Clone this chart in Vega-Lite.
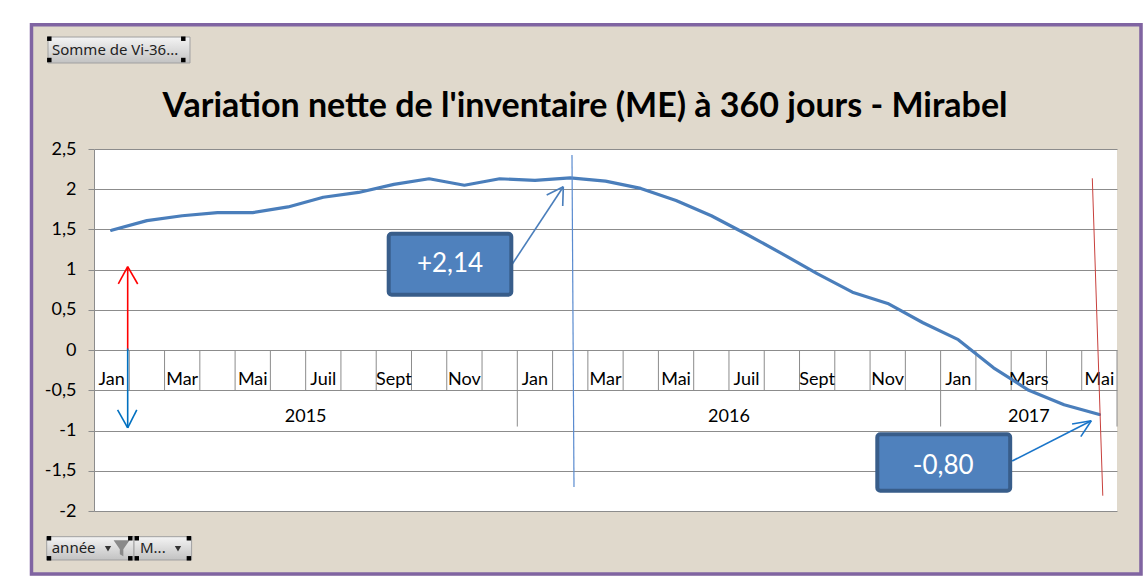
{
  "$schema": "https://vega.github.io/schema/vega-lite/v6.json",
  "width": 1023,
  "height": 362,
  "autosize": {"type": "none"},
  "padding": {"left": 94, "top": 149, "right": 29, "bottom": 72},
  "background": "#e0d9cc",
  "config": {"view": {"fill": "white", "stroke": null}, "font": "Lato"},
  "data": {
    "values": [
      {"rang": 0, "annee": "2015", "mois": "Jan", "lab": "Jan", "v": 1.49},
      {"rang": 1, "annee": "2015", "mois": "Fév", "lab": "", "v": 1.61},
      {"rang": 2, "annee": "2015", "mois": "Mar", "lab": "Mar", "v": 1.67},
      {"rang": 3, "annee": "2015", "mois": "Avr", "lab": "", "v": 1.71},
      {"rang": 4, "annee": "2015", "mois": "Mai", "lab": "Mai", "v": 1.71},
      {"rang": 5, "annee": "2015", "mois": "Juin", "lab": "", "v": 1.78},
      {"rang": 6, "annee": "2015", "mois": "Juil", "lab": "Juil", "v": 1.9},
      {"rang": 7, "annee": "2015", "mois": "Août", "lab": "", "v": 1.96},
      {"rang": 8, "annee": "2015", "mois": "Sept", "lab": "Sept", "v": 2.06},
      {"rang": 9, "annee": "2015", "mois": "Oct", "lab": "", "v": 2.13},
      {"rang": 10, "annee": "2015", "mois": "Nov", "lab": "Nov", "v": 2.05},
      {"rang": 11, "annee": "2015", "mois": "Déc", "lab": "", "v": 2.13},
      {"rang": 12, "annee": "2016", "mois": "Jan", "lab": "Jan", "v": 2.11},
      {"rang": 13, "annee": "2016", "mois": "Fév", "lab": "", "v": 2.14},
      {"rang": 14, "annee": "2016", "mois": "Mar", "lab": "Mar", "v": 2.1},
      {"rang": 15, "annee": "2016", "mois": "Avr", "lab": "", "v": 2.01},
      {"rang": 16, "annee": "2016", "mois": "Mai", "lab": "Mai", "v": 1.86},
      {"rang": 17, "annee": "2016", "mois": "Juin", "lab": "", "v": 1.67},
      {"rang": 18, "annee": "2016", "mois": "Juil", "lab": "Juil", "v": 1.44},
      {"rang": 19, "annee": "2016", "mois": "Août", "lab": "", "v": 1.2},
      {"rang": 20, "annee": "2016", "mois": "Sept", "lab": "Sept", "v": 0.95},
      {"rang": 21, "annee": "2016", "mois": "Oct", "lab": "", "v": 0.72},
      {"rang": 22, "annee": "2016", "mois": "Nov", "lab": "Nov", "v": 0.58},
      {"rang": 23, "annee": "2016", "mois": "Déc", "lab": "", "v": 0.34},
      {"rang": 24, "annee": "2017", "mois": "Jan", "lab": "Jan", "v": 0.13},
      {"rang": 25, "annee": "2017", "mois": "Fév", "lab": "", "v": -0.22},
      {"rang": 26, "annee": "2017", "mois": "Mars", "lab": "Mars", "v": -0.5},
      {"rang": 27, "annee": "2017", "mois": "Avr", "lab": "", "v": -0.68},
      {"rang": 28, "annee": "2017", "mois": "Mai", "lab": "Mai", "v": -0.8}
    ]
  },
  "layer": [
    {
      "mark": {"type": "rule", "color": "#8c8c8c", "strokeWidth": 1, "xOffset": 17.64},
      "encoding": {
        "x": {"field": "rang", "type": "quantitative", "scale": {"domain": [-0.5, 28.5], "nice": false, "zero": false}, "axis": null},
        "y": {"datum": 0, "type": "quantitative"},
        "y2": {"datum": -0.5}
      }
    },
    {
      "transform": [{"aggregate": [{"op": "max", "field": "rang", "as": "m"}], "groupby": ["annee"]}],
      "mark": {"type": "rule", "color": "#8c8c8c", "strokeWidth": 1, "xOffset": 17.64},
      "encoding": {
        "x": {"field": "m", "type": "quantitative"},
        "y": {"datum": -0.5, "type": "quantitative"},
        "y2": {"datum": -0.95}
      }
    },
    {
      "transform": [{"filter": "datum.lab != ''"}],
      "mark": {"type": "text", "font": "Lato", "fontSize": 18, "color": "black", "align": "center", "baseline": "alphabetic"},
      "encoding": {
        "x": {"field": "rang", "type": "quantitative"},
        "y": {"datum": -0.434, "type": "quantitative"},
        "text": {"field": "lab"}
      }
    },
    {
      "transform": [{"aggregate": [{"op": "mean", "field": "rang", "as": "c"}], "groupby": ["annee"]}],
      "mark": {"type": "text", "font": "Lato", "fontSize": 18, "color": "black", "align": "center", "baseline": "alphabetic"},
      "encoding": {
        "x": {"field": "c", "type": "quantitative"},
        "y": {"datum": -0.89, "type": "quantitative"},
        "text": {"field": "annee"}
      }
    },
    {
      "mark": {"type": "line", "color": "#4a7ebb", "strokeWidth": 3.2, "strokeJoin": "round", "strokeCap": "round"},
      "encoding": {
        "x": {"field": "rang", "type": "quantitative"},
        "y": {
          "field": "v", "type": "quantitative",
          "scale": {"domain": [-2, 2.5], "nice": false, "zero": false},
          "axis": {
            "title": null, "values": [-2, -1.5, -1, -0.5, 0, 0.5, 1, 1.5, 2, 2.5],
            "grid": true, "gridColor": "#8c8c8c", "gridWidth": 1,
            "domain": true, "domainColor": "#8c8c8c", "ticks": true, "tickColor": "#8c8c8c", "tickSize": 6,
            "labelFont": "Lato", "labelFontSize": 18, "labelColor": "black", "labelPadding": 12,
            "labelOverlap": false, "labelBound": false, "labelFlush": false,
            "labelExpr": "replace(toString(datum.value), '.', ',')"
          }
        }
      }
    },
    {
      "data": {"values": [{}]},
      "mark": {"type": "rule", "color": "#5a8bd0", "strokeWidth": 1.2},
      "encoding": {"x": {"datum": 13.05, "type": "quantitative"}, "y": {"datum": 2.425, "type": "quantitative"}, "x2": {"datum": 13.107}, "y2": {"datum": -1.702}}
    },
    {
      "data": {"values": [{}]},
      "mark": {"type": "rule", "color": "#c8403c", "strokeWidth": 1},
      "encoding": {"x": {"datum": 27.8, "type": "quantitative"}, "y": {"datum": 2.136, "type": "quantitative"}, "x2": {"datum": 28.097}, "y2": {"datum": -1.81}}
    },
    {
      "data": {"values": [{}]},
      "mark": {"type": "rule", "color": "#ff0000", "strokeWidth": 1.6},
      "encoding": {"x": {"datum": 0.455, "type": "quantitative"}, "y": {"datum": 0, "type": "quantitative"}, "x2": {"datum": 0.455}, "y2": {"datum": 1.037}}
    },
    {
      "data": {"values": [{}]},
      "mark": {"type": "rule", "color": "#ff0000", "strokeWidth": 1.6},
      "encoding": {"x": {"datum": 0.455, "type": "quantitative"}, "y": {"datum": 1.037, "type": "quantitative"}, "x2": {"datum": 0.189}, "y2": {"datum": 0.822}}
    },
    {
      "data": {"values": [{}]},
      "mark": {"type": "rule", "color": "#ff0000", "strokeWidth": 1.6},
      "encoding": {"x": {"datum": 0.455, "type": "quantitative"}, "y": {"datum": 1.037, "type": "quantitative"}, "x2": {"datum": 0.739}, "y2": {"datum": 0.822}}
    },
    {
      "data": {"values": [{}]},
      "mark": {"type": "rule", "color": "#0070c0", "strokeWidth": 1.6},
      "encoding": {"x": {"datum": 0.455, "type": "quantitative"}, "y": {"datum": 0.02, "type": "quantitative"}, "x2": {"datum": 0.455}, "y2": {"datum": -0.968}}
    },
    {
      "data": {"values": [{}]},
      "mark": {"type": "rule", "color": "#0070c0", "strokeWidth": 1.6},
      "encoding": {"x": {"datum": 0.455, "type": "quantitative"}, "y": {"datum": -0.968, "type": "quantitative"}, "x2": {"datum": 0.169}, "y2": {"datum": -0.744}}
    },
    {
      "data": {"values": [{}]},
      "mark": {"type": "rule", "color": "#0070c0", "strokeWidth": 1.6},
      "encoding": {"x": {"datum": 0.455, "type": "quantitative"}, "y": {"datum": -0.968, "type": "quantitative"}, "x2": {"datum": 0.713}, "y2": {"datum": -0.744}}
    },
    {
      "data": {"values": [{}]},
      "mark": {"type": "rule", "color": "#4a7ebb", "strokeWidth": 1.6},
      "encoding": {"x": {"datum": 11.34, "type": "quantitative"}, "y": {"datum": 1.058, "type": "quantitative"}, "x2": {"datum": 12.804}, "y2": {"datum": 2.031}}
    },
    {
      "data": {"values": [{}]},
      "mark": {"type": "rule", "color": "#4a7ebb", "strokeWidth": 1.6},
      "encoding": {"x": {"datum": 12.804, "type": "quantitative"}, "y": {"datum": 2.031, "type": "quantitative"}, "x2": {"datum": 12.333}, "y2": {"datum": 1.928}}
    },
    {
      "data": {"values": [{}]},
      "mark": {"type": "rule", "color": "#4a7ebb", "strokeWidth": 1.6},
      "encoding": {"x": {"datum": 12.804, "type": "quantitative"}, "y": {"datum": 2.031, "type": "quantitative"}, "x2": {"datum": 12.787}, "y2": {"datum": 1.791}}
    },
    {
      "data": {"values": [{}]},
      "mark": {"type": "rule", "color": "#1a75c9", "strokeWidth": 1.6},
      "encoding": {"x": {"datum": 25.529, "type": "quantitative"}, "y": {"datum": -1.378, "type": "quantitative"}, "x2": {"datum": 27.771}, "y2": {"datum": -0.8775}}
    },
    {
      "data": {"values": [{}]},
      "mark": {"type": "rule", "color": "#1a75c9", "strokeWidth": 1.6},
      "encoding": {"x": {"datum": 27.771, "type": "quantitative"}, "y": {"datum": -0.8775, "type": "quantitative"}, "x2": {"datum": 27.227}, "y2": {"datum": -0.9185}}
    },
    {
      "data": {"values": [{}]},
      "mark": {"type": "rule", "color": "#1a75c9", "strokeWidth": 1.6},
      "encoding": {"x": {"datum": 27.771, "type": "quantitative"}, "y": {"datum": -0.8775, "type": "quantitative"}, "x2": {"datum": 27.474}, "y2": {"datum": -1.076}}
    },
    {
      "data": {"values": [{}]},
      "mark": {"type": "rect", "fill": "#4f81bd", "stroke": "#385d8a", "strokeWidth": 4, "cornerRadius": 3},
      "encoding": {"x": {"datum": 7.854, "type": "quantitative"}, "y": {"datum": 1.447, "type": "quantitative"}, "x2": {"datum": 11.33}, "y2": {"datum": 0.689}}
    },
    {
      "data": {"values": [{}]},
      "mark": {"type": "text", "text": "+2,14", "font": "Lato", "fontSize": 26, "color": "white", "align": "center", "baseline": "middle"},
      "encoding": {"x": {"datum": 9.592, "type": "quantitative"}, "y": {"datum": 1.07, "type": "quantitative"}}
    },
    {
      "data": {"values": [{}]},
      "mark": {"type": "rect", "fill": "#4f81bd", "stroke": "#385d8a", "strokeWidth": 4, "cornerRadius": 3},
      "encoding": {"x": {"datum": 21.705, "type": "quantitative"}, "y": {"datum": -1.047, "type": "quantitative"}, "x2": {"datum": 25.472}, "y2": {"datum": -1.748}}
    },
    {
      "data": {"values": [{}]},
      "mark": {"type": "text", "text": "-0,80", "font": "Lato", "fontSize": 26, "color": "white", "align": "center", "baseline": "middle"},
      "encoding": {"x": {"datum": 23.573, "type": "quantitative"}, "y": {"datum": -1.441, "type": "quantitative"}}
    },
    {
      "data": {"values": [{}]},
      "mark": {"type": "rect", "fillOpacity": 0, "fill": "white", "stroke": "white", "strokeWidth": 60},
      "encoding": {"x": {"datum": -3.165, "type": "quantitative"}, "y": {"datum": 4.439, "type": "quantitative"}, "x2": {"datum": 30.073}, "y2": {"datum": -3.175}}
    },
    {
      "data": {"values": [{}]},
      "mark": {"type": "rect", "fillOpacity": 0, "fill": "white", "stroke": "#8064a2", "strokeWidth": 3.5},
      "encoding": {"x": {"datum": -2.272, "type": "quantitative"}, "y": {"datum": 4.045, "type": "quantitative"}, "x2": {"datum": 29.18}, "y2": {"datum": -2.783}}
    },
    {
      "data": {"values": [{}]},
      "mark": {"type": "text", "text": "Variation nette de l'inventaire (ME) à 360 jours - Mirabel", "font": "Lato", "fontSize": 34, "fontWeight": "bold", "color": "black", "align": "center", "baseline": "alphabetic"},
      "encoding": {"x": {"datum": 13.419, "type": "quantitative"}, "y": {"datum": 2.9015, "type": "quantitative"}}
    },
    {
      "data": {"values": [{}]},
      "mark": {"type": "rect", "stroke": "#a0a0a0", "strokeWidth": 1,
        "fill": {"gradient": "linear", "x1": 0, "y1": 0, "x2": 0, "y2": 1, "stops": [{"offset": 0, "color": "#f4f4f4"}, {"offset": 1, "color": "#c2c2c2"}]}},
      "encoding": {"x": {"datum": -1.804, "type": "quantitative"}, "y": {"datum": 3.892, "type": "quantitative"}, "x2": {"datum": 2.221}, "y2": {"datum": 3.569}}
    },
    {
      "data": {"values": [{}]},
      "mark": {"type": "text", "text": "Somme de Vi-36...", "font": "Noto Sans", "fontSize": 15, "color": "#222222", "align": "left", "baseline": "middle"},
      "encoding": {"x": {"datum": -1.69, "type": "quantitative"}, "y": {"datum": 3.731, "type": "quantitative"}}
    },
    {
      "data": {"values": [{}]},
      "mark": {"type": "rect", "stroke": "#a0a0a0", "strokeWidth": 1,
        "fill": {"gradient": "linear", "x1": 0, "y1": 0, "x2": 0, "y2": 1, "stops": [{"offset": 0, "color": "#f4f4f4"}, {"offset": 1, "color": "#c2c2c2"}]}},
      "encoding": {"x": {"datum": -1.841, "type": "quantitative"}, "y": {"datum": -2.3195, "type": "quantitative"}, "x2": {"datum": 0.634}, "y2": {"datum": -2.609}}
    },
    {
      "data": {"values": [{}]},
      "mark": {"type": "rect", "stroke": "#a0a0a0", "strokeWidth": 1,
        "fill": {"gradient": "linear", "x1": 0, "y1": 0, "x2": 0, "y2": 1, "stops": [{"offset": 0, "color": "#f4f4f4"}, {"offset": 1, "color": "#c2c2c2"}]}},
      "encoding": {"x": {"datum": 0.634, "type": "quantitative"}, "y": {"datum": -2.3195, "type": "quantitative"}, "x2": {"datum": 2.267}, "y2": {"datum": -2.609}}
    },
    {
      "data": {"values": [{}]},
      "mark": {"type": "text", "text": "année", "font": "Noto Sans", "fontSize": 15, "color": "#222222", "align": "left", "baseline": "middle"},
      "encoding": {"x": {"datum": -1.699, "type": "quantitative"}, "y": {"datum": -2.464, "type": "quantitative"}}
    },
    {
      "data": {"values": [{}]},
      "mark": {"type": "text", "text": "M...", "font": "Noto Sans", "fontSize": 15, "color": "#222222", "align": "left", "baseline": "middle"},
      "encoding": {"x": {"datum": 0.804, "type": "quantitative"}, "y": {"datum": -2.464, "type": "quantitative"}}
    },
    {
      "data": {"values": [{}]},
      "mark": {"type": "point", "shape": "triangle-down", "filled": true, "color": "#333333", "size": 40, "opacity": 1},
      "encoding": {"x": {"datum": -0.103, "type": "quantitative"}, "y": {"datum": -2.47, "type": "quantitative"}}
    },
    {
      "data": {"values": [{}]},
      "mark": {"type": "point", "shape": "triangle-down", "filled": true, "color": "#333333", "size": 40, "opacity": 1},
      "encoding": {"x": {"datum": 1.881, "type": "quantitative"}, "y": {"datum": -2.47, "type": "quantitative"}}
    },
    {
      "data": {"values": [{}]},
      "mark": {"type": "point", "shape": "M-1,-1L1,-1L0.22,0.1L0.22,1L-0.22,0.75L-0.22,0.1Z", "filled": true, "color": "#8a8a8a", "size": 256, "opacity": 1},
      "encoding": {"x": {"datum": 0.282, "type": "quantitative"}, "y": {"datum": -2.464, "type": "quantitative"}}
    },
    {"data": {"values": [{}]}, "mark": {"type": "point", "shape": "square", "filled": true, "color": "black", "size": 20, "opacity": 1},
      "encoding": {"x": {"datum": -1.767, "type": "quantitative"}, "y": {"datum": 3.871, "type": "quantitative"}}},
    {"data": {"values": [{}]}, "mark": {"type": "point", "shape": "square", "filled": true, "color": "black", "size": 20, "opacity": 1},
      "encoding": {"x": {"datum": 2.031, "type": "quantitative"}, "y": {"datum": 3.871, "type": "quantitative"}}},
    {"data": {"values": [{}]}, "mark": {"type": "point", "shape": "square", "filled": true, "color": "black", "size": 20, "opacity": 1},
      "encoding": {"x": {"datum": -1.767, "type": "quantitative"}, "y": {"datum": 3.606, "type": "quantitative"}}},
    {"data": {"values": [{}]}, "mark": {"type": "point", "shape": "square", "filled": true, "color": "black", "size": 20, "opacity": 1},
      "encoding": {"x": {"datum": 2.031, "type": "quantitative"}, "y": {"datum": 3.606, "type": "quantitative"}}},
    {"data": {"values": [{}]}, "mark": {"type": "point", "shape": "square", "filled": true, "color": "black", "size": 20, "opacity": 1},
      "encoding": {"x": {"datum": -1.776, "type": "quantitative"}, "y": {"datum": -2.339, "type": "quantitative"}}},
    {"data": {"values": [{}]}, "mark": {"type": "point", "shape": "square", "filled": true, "color": "black", "size": 20, "opacity": 1},
      "encoding": {"x": {"datum": 0.529, "type": "quantitative"}, "y": {"datum": -2.339, "type": "quantitative"}}},
    {"data": {"values": [{}]}, "mark": {"type": "point", "shape": "square", "filled": true, "color": "black", "size": 20, "opacity": 1},
      "encoding": {"x": {"datum": 0.713, "type": "quantitative"}, "y": {"datum": -2.339, "type": "quantitative"}}},
    {"data": {"values": [{}]}, "mark": {"type": "point", "shape": "square", "filled": true, "color": "black", "size": 20, "opacity": 1},
      "encoding": {"x": {"datum": 2.19, "type": "quantitative"}, "y": {"datum": -2.339, "type": "quantitative"}}},
    {"data": {"values": [{}]}, "mark": {"type": "point", "shape": "square", "filled": true, "color": "black", "size": 20, "opacity": 1},
      "encoding": {"x": {"datum": -1.776, "type": "quantitative"}, "y": {"datum": -2.588, "type": "quantitative"}}},
    {"data": {"values": [{}]}, "mark": {"type": "point", "shape": "square", "filled": true, "color": "black", "size": 20, "opacity": 1},
      "encoding": {"x": {"datum": 0.529, "type": "quantitative"}, "y": {"datum": -2.588, "type": "quantitative"}}},
    {"data": {"values": [{}]}, "mark": {"type": "point", "shape": "square", "filled": true, "color": "black", "size": 20, "opacity": 1},
      "encoding": {"x": {"datum": 0.713, "type": "quantitative"}, "y": {"datum": -2.588, "type": "quantitative"}}},
    {"data": {"values": [{}]}, "mark": {"type": "point", "shape": "square", "filled": true, "color": "black", "size": 20, "opacity": 1},
      "encoding": {"x": {"datum": 2.19, "type": "quantitative"}, "y": {"datum": -2.588, "type": "quantitative"}}}
  ]
}
